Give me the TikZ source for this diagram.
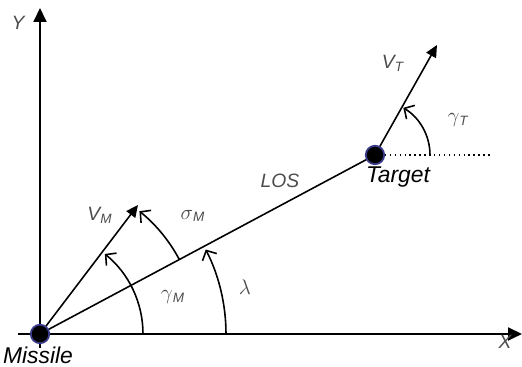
\documentclass[tikz,border=0pt]{standalone}
\usepackage{fontspec}
\setmainfont{Liberation Sans}
\usepackage{xcolor}
\usetikzlibrary{positioning,arrows.meta}
\definecolor{lblgray}{gray}{0.3}
\definecolor{dotrim}{RGB}{60,60,140}
\newcommand{\vsub}[2]{#1\textsubscript{#2}}
\newcommand{\gsub}[2]{{\fontsize{13}{14}\selectfont$#1$}\textsubscript{#2}}

\begin{document}
\begin{tikzpicture}[
x=0.02cm, y=0.02cm,
axis/.style={-{Triangle[length=2.8mm, width=2.6mm]}, line width=1.1pt, black},
vec/.style={-{Triangle[length=2.4mm, width=2.2mm]}, line width=0.9pt, black},
angarc/.style={-{Straight Barb[length=1.5mm, width=3.2mm]}, line width=0.9pt, black},
dot/.style={circle, fill=black, draw=dotrim, line width=1pt, minimum size=3.7mm, inner sep=0pt},
lbl/.style={font=\fontsize{11}{13}\selectfont\itshape, text=lblgray, inner sep=1pt},
bodylbl/.style={font=\fontsize{13}{15}\selectfont\itshape, text=black, inner sep=1pt}
]
\useasboundingbox (0,0) rectangle (522,367);
% points
\coordinate (M) at (40,33);
\coordinate (T) at (375,212);
\coordinate (vmtip) at (138,162);
\coordinate (vttip) at (437,322);
\coordinate (xstart) at (18,33);
\coordinate (xend) at (522,33);
\coordinate (ystart) at (40,19);
\coordinate (yend) at (40,359);
\coordinate (dotend) at (490,212);
% axes
\draw[axis] (xstart) -- (xend);
\draw[axis] (ystart) -- (yend);
% line of sight and velocities
\draw[line width=0.9pt] (M) -- (T);
\draw[vec] (M) -- (vmtip);
\draw[vec] (T) -- (vttip);
\draw[dotted, line width=0.8pt] (T) -- (dotend);
% angles
\draw[angarc] ([shift={(186,0)}]M) arc[start angle=0, end angle=27, radius=186];
\draw[angarc] ([shift={(103,0)}]M) arc[start angle=0, end angle=51, radius=103];
\draw[angarc] ([shift={(28:158)}]M) arc[start angle=28, end angle=51, radius=158];
\draw[angarc] ([shift={(55,0)}]T) arc[start angle=0, end angle=59, radius=55];
% bodies
\node[dot] (missile) at (M) {};
\node[dot] (target) at (T) {};
% labels
\node[lbl] (ylbl) at (18,344) {Y};
\node[lbl] (xlbl) at (505,25) {X};
\node[lbl] (vtlbl) at (393,304) {\vsub{V}{T}};
\node[lbl] (gtlbl) at (458,247) {\gsub{\gamma}{T}};
\node[lbl] (loslbl) at (280,186) {LOS};
\node[lbl] (vmlbl) at (100,152) {\vsub{V}{M}};
\node[lbl] (smlbl) at (193,151) {\gsub{\sigma}{M}};
\node[lbl] (gmlbl) at (173,70) {\gsub{\gamma}{M}};
\node[lbl] (lamlbl) at (245,80) {{\fontsize{13}{14}\selectfont$\lambda$}};
\node[bodylbl] (tgtlbl) at (398,190) {Target};
\node[bodylbl] (mislbl) at (38,12) {Missile};
\end{tikzpicture}
\end{document}
